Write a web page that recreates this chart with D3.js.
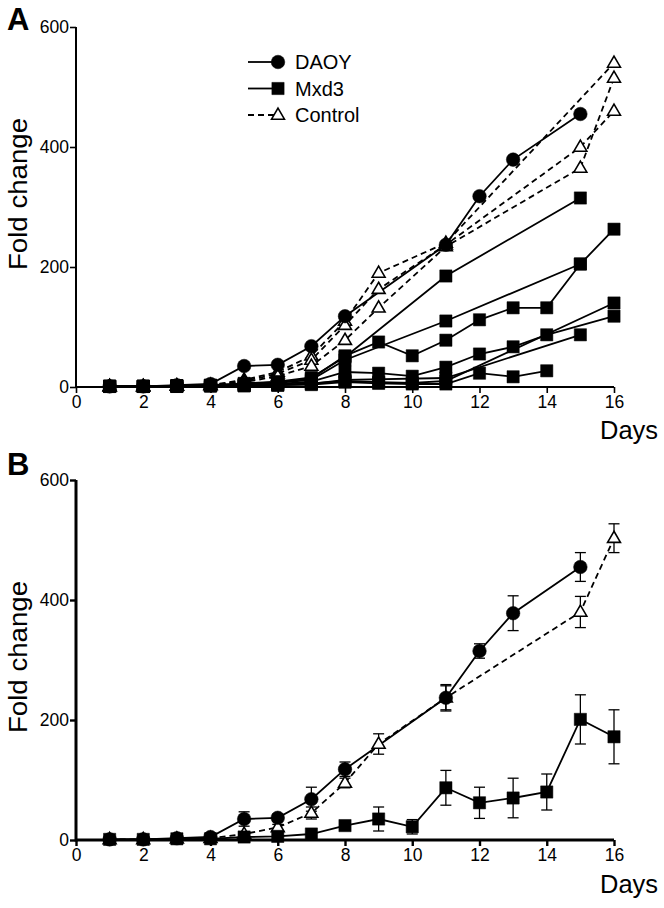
<!DOCTYPE html>
<html><head><meta charset="utf-8">
<script src="https://cdn.jsdelivr.net/npm/d3@7"></script>
<style>
html,body{margin:0;padding:0;background:#fff;}
svg text{font-family:"Liberation Sans",Arial,Helvetica,sans-serif;fill:#000;}
</style></head>
<body><svg id="c" width="664" height="908"></svg>
<script>
// ---------- DATA ----------
const xTicks = [0,2,4,6,8,10,12,14,16];
const yTicks = [0,200,400,600];
const legendLabels = ["DAOY","Mxd3","Control"];

// Panel A: individual replicates
const daoyA_days = [1,2,3,4,5,6,7,8,11,12,13,15];
const daoyA_vals = [1,1,3,5,35,37,68,118,237,318,379,455];

const ctrlA1_days = [1,2,3,4,5,6,7,8,9,11,16];
const ctrlA1_vals = [1,1,2,3,12,25,52,110,190,240,540];
const ctrlA2_days = [1,2,3,4,5,6,7,8,9,11,15,16];
const ctrlA2_vals = [1,1,2,3,10,22,45,103,163,237,400,460];
const ctrlA3_days = [1,2,3,4,5,6,7,8,9,11,15,16];
const ctrlA3_vals = [1,1,2,3,8,18,35,78,132,234,365,515];

const mxdA1_days = [1,2,3,4,5,6,7,8,11,15];
const mxdA1_vals = [1,1,2,3,6,9,16,50,185,315];
const mxdA2_days = [1,2,3,4,5,6,7,8,9,10,11,12,13,14,15,16];
const mxdA2_vals = [1,1,2,3,5,8,14,52,75,52,78,112,132,132,205,263];
const mxdA3_days = [1,2,3,4,5,6,7,8,11,15];
const mxdA3_vals = [1,1,2,2,4,7,12,45,110,205];
const mxdA4_days = [1,2,3,4,5,6,7,8,9,10,11,12,13,14,16];
const mxdA4_vals = [1,1,2,2,3,5,9,25,23,18,33,55,67,87,118];
const mxdA5_days = [1,2,3,4,5,6,7,8,9,10,11,16];
const mxdA5_vals = [1,1,1,2,3,4,6,10,8,7,10,140];
const mxdA6_days = [1,2,3,4,5,6,7,8,11,15];
const mxdA6_vals = [1,1,1,2,2,3,5,12,15,87];
const mxdA7_days = [1,2,3,4,5,6,7,8,9,10,11,12,13,14];
const mxdA7_vals = [1,1,1,2,2,3,4,8,6,5,5,23,17,27];

// Panel B: means with error bars
const daoyB_days = [1,2,3,4,5,6,7,8,11,12,13,15];
const daoyB_vals = [1,1,3,5,35,37,68,118,237,315,378,455];
const daoyB_err  = [0,0,1,1,12,6,20,12,22,12,29,24];

const ctrlB_days = [1,2,3,4,5,6,7,8,9,11,15,16];
const ctrlB_vals = [1,1,2,3,10,21,45,95,160,237,380,503];
const ctrlB_err  = [0,0,0,1,3,5,10,8,17,20,26,24];

const mxdB_days = [1,2,3,4,5,6,7,8,9,10,11,12,13,14,15,16];
const mxdB_vals = [1,1,2,2,5,6,10,24,35,22,87,62,70,80,201,172];
const mxdB_err  = [0,0,0,0,2,2,3,5,20,12,29,26,33,30,41,45];

// ---------- DRAW ----------
const svg = d3.select("#c");
const zip = (ds, vs, es) => ds.map((d,i)=>({day:d, v:vs[i], e: es ? es[i] : 0}));

const x = d3.scaleLinear().domain([0,16]).range([76,614]);
const yA = d3.scaleLinear().domain([0,600]).range([387,27]);
const yB = d3.scaleLinear().domain([0,600]).range([840,480]);

const symCircle = d3.symbol().type(d3.symbolCircle).size(145);
const symSquare = d3.symbol().type(d3.symbolSquare).size(150);
const symTri = d3.symbol().type(d3.symbolTriangle).size(72);

function axes(y, axisW){
  const g = svg.append("g");
  const xa = g.append("g").attr("transform",`translate(0,${y(0)})`)
    .call(d3.axisBottom(x).tickValues(xTicks).tickSize(6).tickPadding(3).tickFormat(d3.format("d")));
  const ya = g.append("g").attr("transform",`translate(${x(0)},0)`)
    .call(d3.axisLeft(y).tickValues(yTicks).tickSize(6).tickPadding(1).tickFormat(d3.format("d")));
  [xa,ya].forEach(a=>{
    a.select(".domain").remove();
    a.selectAll(".tick line").attr("stroke","#000").attr("stroke-width",axisW*0.8);
    a.selectAll(".tick text").attr("font-size",17.5).attr("font-family","Liberation Sans, Arial, sans-serif").attr("fill","#000");
  });
  g.append("line").attr("x1",x(0)).attr("x2",x(16)).attr("y1",y(0)).attr("y2",y(0))
    .attr("stroke","#000").attr("stroke-width",axisW);
  g.append("line").attr("x1",x(0)).attr("x2",x(0)).attr("y1",y(0)+axisW/2).attr("y2",y(600))
    .attr("stroke","#000").attr("stroke-width",axisW);
  return g;
}

function series(y, data, kind){
  const line = d3.line().x(d=>x(d.day)).y(d=>y(d.v));
  svg.append("path").attr("d", line(data)).attr("fill","none").attr("stroke","#000")
    .attr("stroke-width",1.8).attr("stroke-dasharray", kind==="tri" ? "6,4" : null);
}
function markers(y, data, kind){
  const g = svg.append("g");
  const sym = kind==="circle" ? symCircle : kind==="square" ? symSquare : symTri;
  g.selectAll("path").data(data).join("path")
    .attr("d", sym)
    .attr("transform", d=>`translate(${x(d.day)},${y(d.v) + (kind==="tri"?0.5:0)})`)
    .attr("fill", kind==="tri" ? "#fff" : "#000")
    .attr("stroke","#000").attr("stroke-width", kind==="tri" ? 1.6 : 0.5);
}
function errorbars(y, data){
  const g = svg.append("g");
  data.filter(d=>d.e>2).forEach(d=>{
    const cx = x(d.day);
    g.append("line").attr("x1",cx).attr("x2",cx).attr("y1",y(d.v+d.e)).attr("y2",y(d.v-d.e))
      .attr("stroke","#000").attr("stroke-width",1.3);
    [d.v+d.e, d.v-d.e].forEach(v=>{
      g.append("line").attr("x1",cx-5.5).attr("x2",cx+5.5).attr("y1",y(v)).attr("y2",y(v))
        .attr("stroke","#000").attr("stroke-width",1.3);
    });
  });
}

function labels(y, letter, letterY, labelCy, daysY){
  svg.append("text").attr("x",7).attr("y",letterY).attr("font-size",31).attr("font-weight","bold").text(letter);
  svg.append("text").attr("transform",`translate(27,${labelCy}) rotate(-90)`)
    .attr("text-anchor","middle").attr("font-size",25)
    .attr("textLength",152).attr("lengthAdjust","spacingAndGlyphs").text("Fold change");
  svg.append("text").attr("x",600).attr("y",daysY).attr("font-size",25)
    .attr("textLength",58).attr("lengthAdjust","spacingAndGlyphs").text("Days");
}

// ----- Panel A -----
axes(yA, 2);
labels(yA, "A", 30, 194, 439);
const ctrlA = [zip(ctrlA1_days,ctrlA1_vals), zip(ctrlA2_days,ctrlA2_vals), zip(ctrlA3_days,ctrlA3_vals)];
const mxdA = [zip(mxdA1_days,mxdA1_vals), zip(mxdA2_days,mxdA2_vals), zip(mxdA3_days,mxdA3_vals),
  zip(mxdA4_days,mxdA4_vals), zip(mxdA5_days,mxdA5_vals), zip(mxdA6_days,mxdA6_vals), zip(mxdA7_days,mxdA7_vals)];
const daoyA = zip(daoyA_days, daoyA_vals);
mxdA.forEach(s=>series(yA,s,"square"));
series(yA,daoyA,"circle");
ctrlA.forEach(s=>series(yA,s,"tri"));
ctrlA.forEach(s=>markers(yA,s,"tri"));
mxdA.forEach(s=>markers(yA,s,"square"));
markers(yA,daoyA,"circle");

// legend
const leg = svg.append("g");
const kinds = ["circle","square","tri"];
legendLabels.forEach((lab,i)=>{
  const ly = 62 + i*26.5;
  leg.append("line").attr("x1",248).attr("x2",278).attr("y1",ly).attr("y2",ly)
    .attr("stroke","#000").attr("stroke-width",1.8).attr("stroke-dasharray", kinds[i]==="tri"?"6,4":null);
  const sym = kinds[i]==="circle"?symCircle:kinds[i]==="square"?symSquare:symTri;
  leg.append("path").attr("d",sym).attr("transform",`translate(278,${ly+(kinds[i]==="tri"?0.5:0)})`)
    .attr("fill",kinds[i]==="tri"?"#fff":"#000").attr("stroke","#000").attr("stroke-width",kinds[i]==="tri"?1.6:0.5);
  leg.append("text").attr("x",295).attr("y",ly+7).attr("font-size",20).text(lab);
});

// ----- Panel B -----
axes(yB, 3);
labels(yB, "B", 475, 657, 893);
const daoyB = zip(daoyB_days,daoyB_vals,daoyB_err);
const ctrlB = zip(ctrlB_days,ctrlB_vals,ctrlB_err);
const mxdB = zip(mxdB_days,mxdB_vals,mxdB_err);
errorbars(yB, daoyB); errorbars(yB, ctrlB); errorbars(yB, mxdB);
series(yB,mxdB,"square"); series(yB,daoyB,"circle"); series(yB,ctrlB,"tri");
markers(yB,ctrlB,"tri"); markers(yB,mxdB,"square"); markers(yB,daoyB,"circle");
</script></body></html>
